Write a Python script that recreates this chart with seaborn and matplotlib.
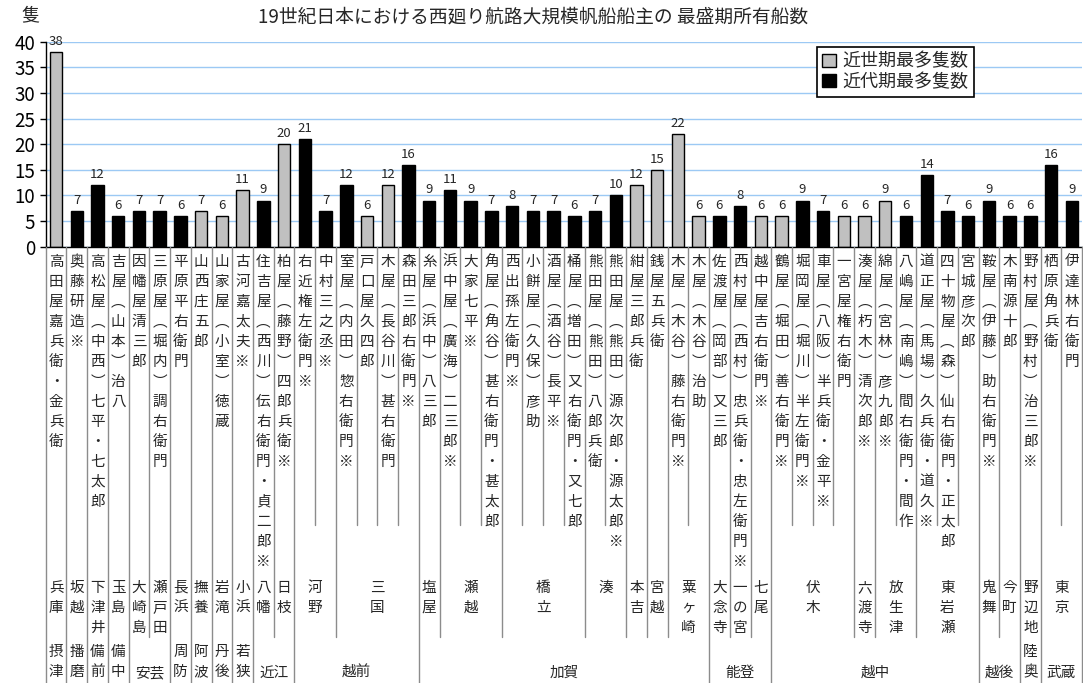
import matplotlib
matplotlib.use("Agg")
import matplotlib.pyplot as plt
import pandas as pd
import seaborn as sns
from matplotlib.lines import Line2D
from matplotlib.transforms import blended_transform_factory

title = "19世紀日本における西廻り航路大規模帆船船主の 最盛期所有船数"
unit_label = "隻"
period_labels = ["近世期最多隻数", "近代期最多隻数"]

owners = [
    "高田屋嘉兵衛・金兵衛", "奥藤研造※", "高松屋（中西）七平・七太郎", "吉屋（山本）治八",
    "因幡屋清三郎", "三原屋（堀内）調右衛門", "平原平右衛門", "山西庄五郎",
    "山家屋（小室）徳蔵", "古河嘉太夫※", "住吉屋（西川）伝右衛門・貞二郎※", "柏屋（藤野）四郎兵衛※",
    "右近権左衛門※", "中村三之丞※", "室屋（内田）惣右衛門※", "戸口屋久四郎",
    "木屋（長谷川）甚右衛門", "森田三郎右衛門※", "糸屋（浜中）八三郎", "浜中屋（廣海）二三郎※",
    "大家七平※", "角屋（角谷）甚右衛門・甚太郎", "西出孫左衛門※", "小餅屋（久保）彦助",
    "酒屋（酒谷）長平※", "桶屋（増田）又右衛門・又七郎", "熊田屋（熊田）八郎兵衛", "熊田屋（熊田）源次郎・源太郎※",
    "紺屋三郎兵衛", "銭屋五兵衛", "木屋（木谷）藤右衛門※", "木屋（木谷）治助",
    "佐渡屋（岡部）又三郎", "西村屋（西村）忠兵衛・忠左衛門※", "越中屋吉右衛門※", "鶴屋（堀田）善右衛門※",
    "堀岡屋（堀川）半左衛門※", "車屋（八阪）半兵衛・金平※", "一宮屋権右衛門", "湊屋（朽木）清次郎※",
    "綿屋（宮林）彦九郎※", "八嶋屋（南嶋）間右衛門・間作", "道正屋（馬場）久兵衛・道久※", "四十物屋（森）仙右衛門・正太郎",
    "宮城彦次郎", "鞍屋（伊藤）助右衛門※", "木南源十郎", "野村屋（野村）治三郎※",
    "栖原角兵衛", "伊達林右衛門",
]

counts = [38, 7, 12, 6, 7, 7, 6, 7, 6, 11, 9, 20, 21, 7, 12, 6, 12, 16, 9, 11,
          9, 7, 8, 7, 7, 6, 7, 10, 12, 15, 22, 6, 6, 8, 6, 6, 9, 7, 6, 6,
          9, 6, 14, 7, 6, 9, 6, 6, 16, 9]

# 0 = 近世期, 1 = 近代期
period_index = [0, 1, 1, 1, 1, 1, 1, 0, 0, 0, 1, 0, 1, 1, 1, 0, 0, 1, 1, 1,
                1, 1, 1, 1, 1, 1, 1, 1, 0, 0, 0, 0, 1, 1, 0, 0, 1, 1, 0, 0,
                0, 1, 1, 1, 1, 1, 1, 1, 1, 1]

towns = ["兵庫", "坂越", "下津井", "玉島", "大崎島", "瀬戸田", "長浜", "撫養", "岩滝", "小浜",
         "八幡", "日枝", "河野", "河野", "三国", "三国", "三国", "三国", "塩屋", "瀬越",
         "瀬越", "瀬越", "橋立", "橋立", "橋立", "橋立", "湊", "湊", "本吉", "宮越",
         "粟ヶ崎", "粟ヶ崎", "大念寺", "一の宮", "七尾", "伏木", "伏木", "伏木", "伏木", "六渡寺",
         "放生津", "放生津", "東岩瀬", "東岩瀬", "東岩瀬", "鬼舞", "今町", "野辺地", "東京", "東京"]

provinces = (["摂津", "播磨", "備前", "備中", "安芸", "安芸", "周防", "阿波", "丹後", "若狭", "近江", "近江"]
             + ["越前"] * 6 + ["加賀"] * 14 + ["能登"] * 3 + ["越中"] * 10
             + ["越後"] * 2 + ["陸奥"] + ["武蔵"] * 2)

W, H = 1083, 683
sns.set_style("white")
plt.rcParams["font.family"] = ["Noto Sans CJK JP", "DejaVu Sans"]

fig = plt.figure(figsize=(W / 100, H / 100), dpi=100)
fig.patch.set_facecolor("white")
AX_LEFT, AX_RIGHT, AX_TOP, AX_BOTTOM = 45.7, 1082.2, 41.7, 246.7
ax = fig.add_axes([AX_LEFT / W, 1 - AX_BOTTOM / H, (AX_RIGHT - AX_LEFT) / W, (AX_BOTTOM - AX_TOP) / H])

df = pd.DataFrame({
    "owner": owners,
    "count": counts,
    "period": [period_labels[p] for p in period_index],
})
palette = {period_labels[0]: "#c0c0c0", period_labels[1]: "#000000"}
sns.barplot(data=df, x="owner", y="count", hue="period", hue_order=period_labels,
            order=owners, palette=palette, dodge=False, width=0.6, saturation=1,
            edgecolor="black", linewidth=1, errorbar=None, ax=ax)

n = len(owners)
ax.set_xlim(-0.5, n - 0.5)
ax.set_ylim(0, 40)
ax.set_yticks(range(0, 41, 5))
ax.yaxis.grid(True, color="#9cc9f4", linewidth=1)
ax.xaxis.grid(False)
ax.set_axisbelow(True)
ax.set_xlabel("")
ax.set_ylabel("")
ax.tick_params(axis="x", bottom=False, labelbottom=False)
ax.tick_params(axis="y", left=True, length=4.5, width=1, pad=3, labelsize=13.5, colors="black")
for s in ("top", "right"):
    ax.spines[s].set_visible(False)
for s in ("left", "bottom"):
    ax.spines[s].set_color("black")
    ax.spines[s].set_linewidth(1)

for c in ax.containers:
    ax.bar_label(c, padding=3, fontsize=9.5)

# legend
handles, labels = ax.get_legend_handles_labels()
leg = ax.legend(handles, labels, loc="upper left",
                bbox_to_anchor=(817 / W, 1 - 47 / H), bbox_transform=fig.transFigure,
                frameon=True, fancybox=False, framealpha=1, edgecolor="black",
                fontsize=13, handlelength=0.75, handleheight=0.75, handletextpad=0.35,
                borderpad=0.3, labelspacing=0.15, borderaxespad=0)
leg.get_frame().set_linewidth(1.2)

fig.text(533 / W, 1 - 17 / H, title, ha="center", va="center", fontsize=13.5)
fig.text(30 / W, 1 - 15 / H, unit_label, ha="center", va="center", fontsize=13)

# multi-level category labels under the axis
xt = blended_transform_factory(ax.transData, fig.transFigure)
VFORM = {"（": "︵", "）": "︶"}
PITCH = 20


def fy(p):
    return 1 - p / H


def stack(x, text, y0, size=10.5):
    for k, ch in enumerate(text):
        ax.text(x, fy(y0 + PITCH * k), VFORM.get(ch, ch), transform=xt,
                ha="center", va="center", fontsize=size, clip_on=False)


def runs(seq):
    out, start = [], 0
    for i in range(1, len(seq) + 1):
        if i == len(seq) or seq[i] != seq[start]:
            out.append((seq[start], start, i - 1))
            start = i
    return out


for i, name in enumerate(owners):
    stack(i, name, 262)

for town, s, e in runs(towns):
    stack((s + e) / 2, town, 588)

for prov, s, e in runs(provinces):
    if s == e:
        stack(s, prov, 652)
    else:
        ax.text((s + e) / 2, fy(673), prov, transform=xt, ha="center", va="center",
                fontsize=10.5, clip_on=False)

NAME_END, TOWN_END, PROV_END = 525, 637, 683
for b in range(0, n + 1):
    if b == 0 or b == n or provinces[b] != provinces[b - 1]:
        end = PROV_END
    elif towns[b] != towns[b - 1]:
        end = TOWN_END
    else:
        end = NAME_END
    fig.add_artist(Line2D([b - 0.5, b - 0.5], [fy(AX_BOTTOM), fy(end)], transform=xt,
                          color="#8c8c8c", linewidth=1))

fig.savefig("out.png", dpi=100, facecolor="white")
